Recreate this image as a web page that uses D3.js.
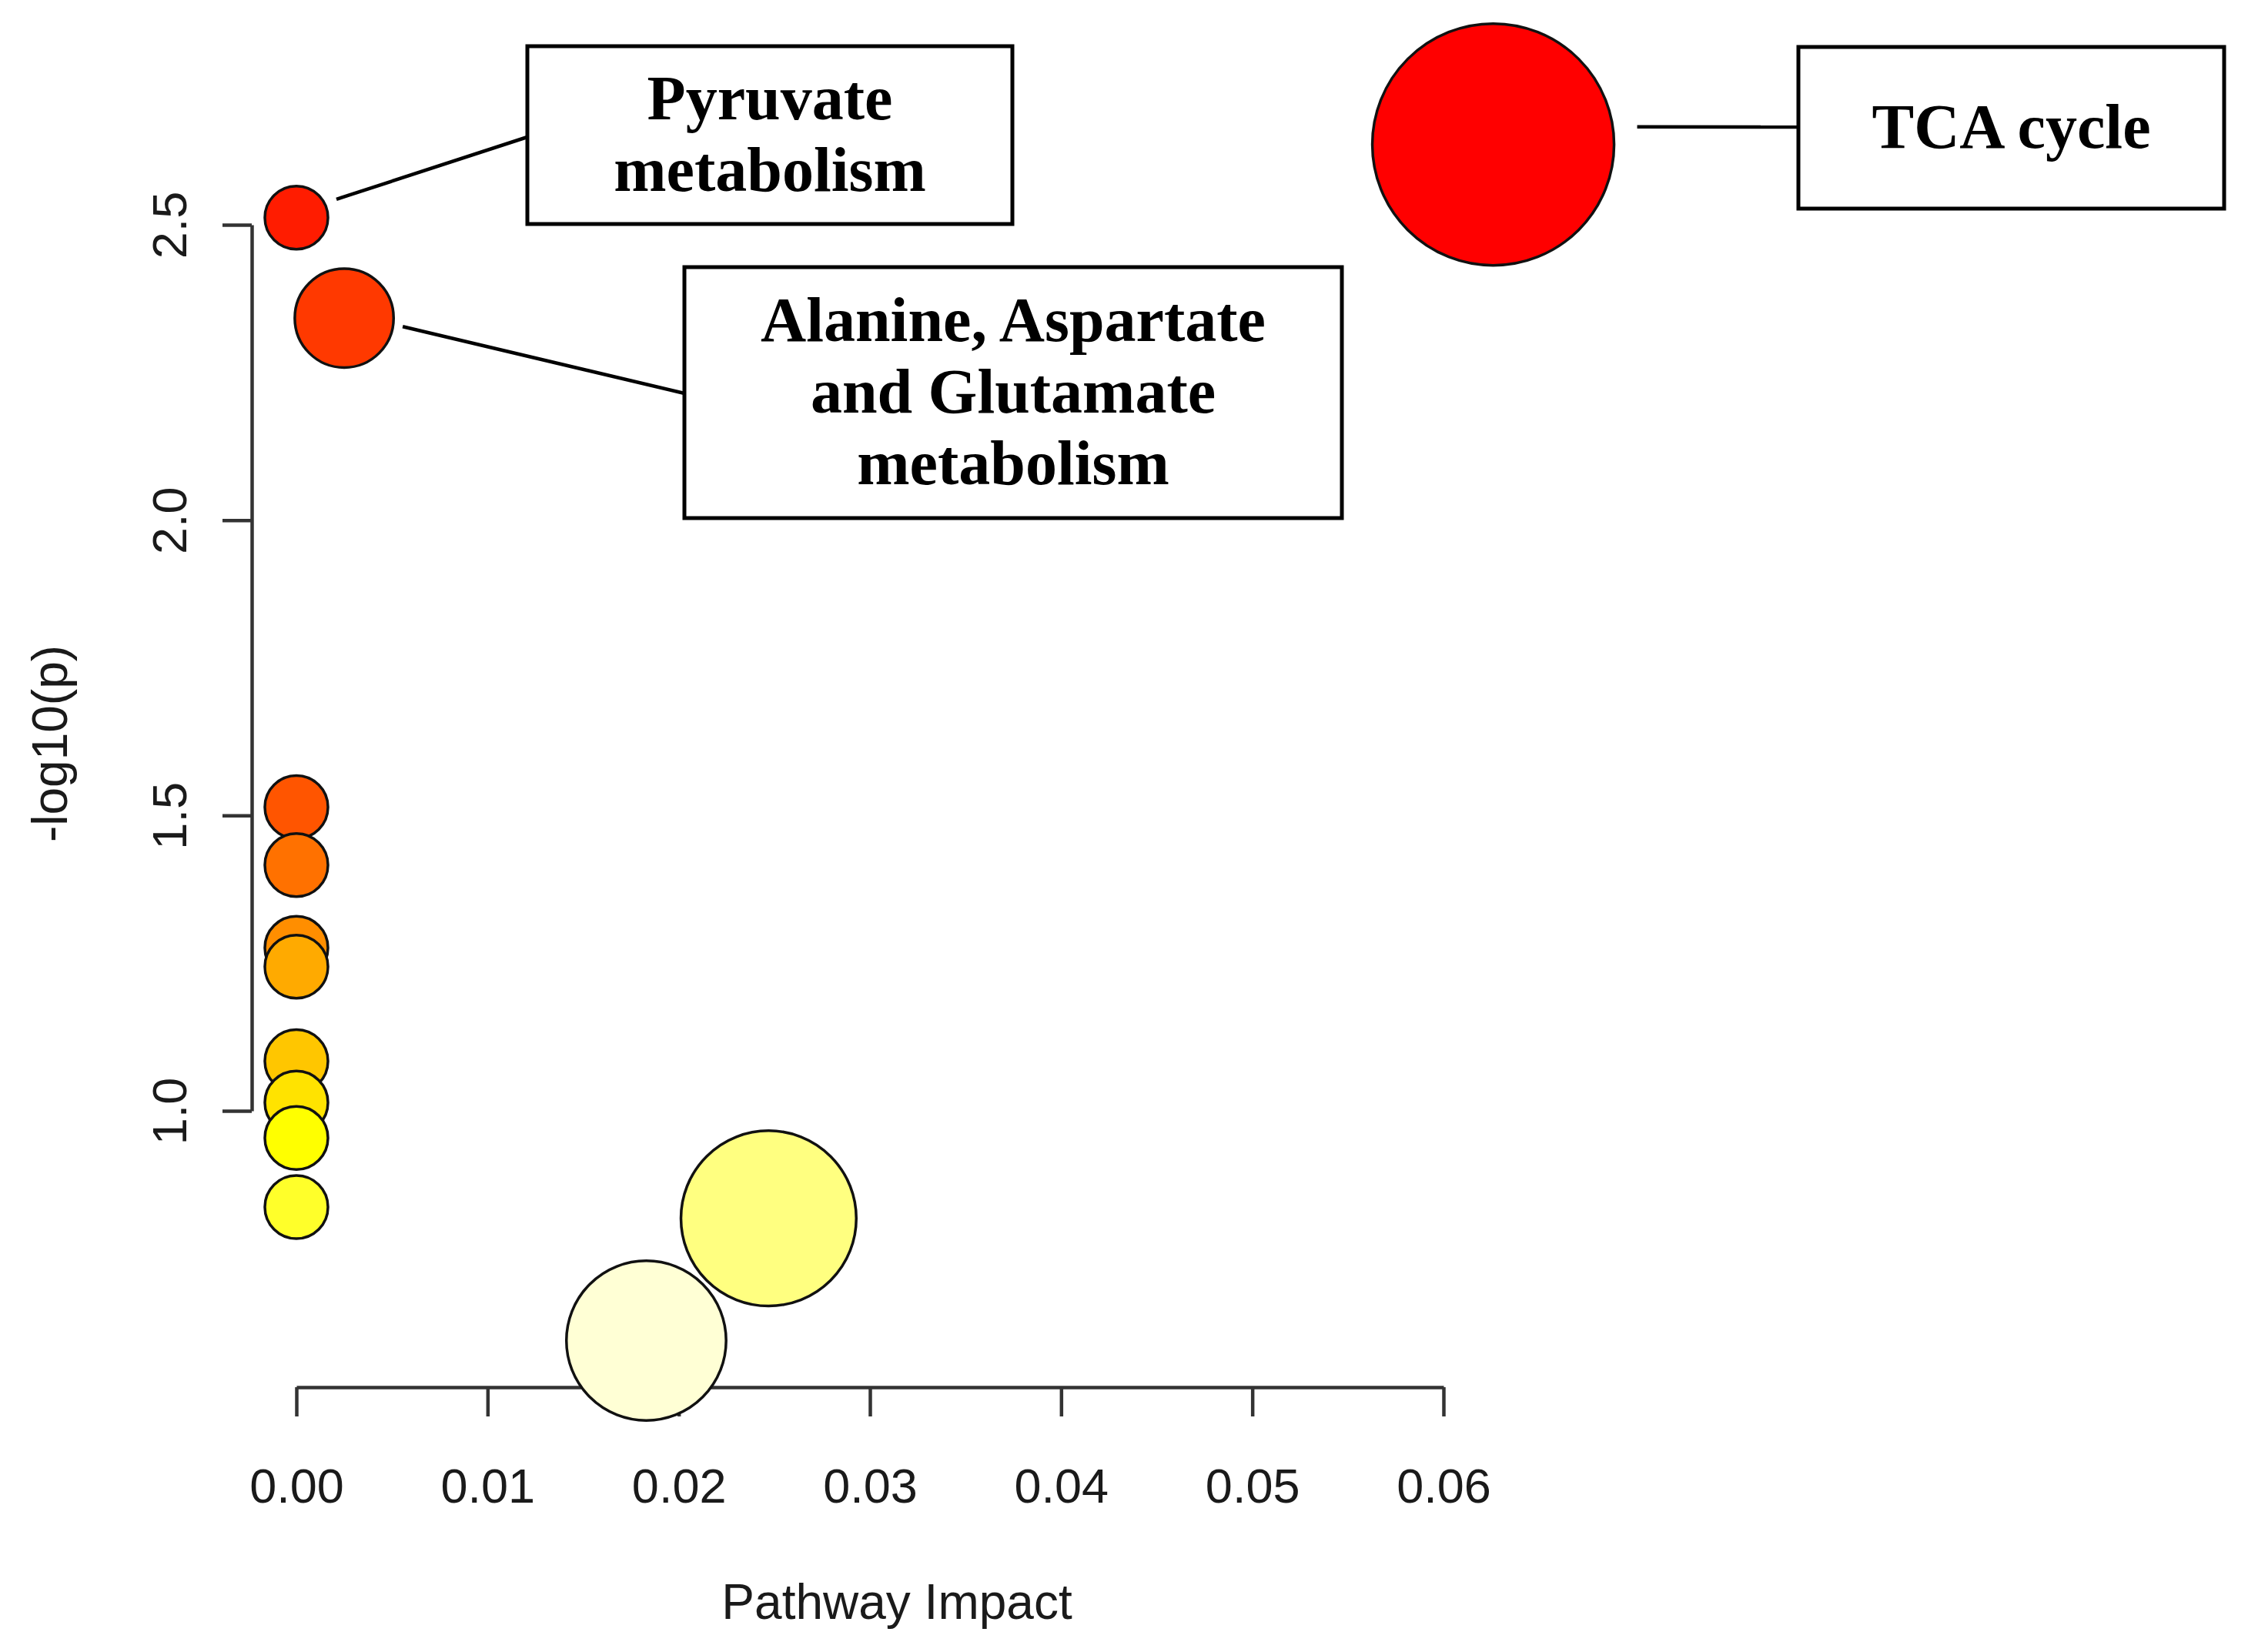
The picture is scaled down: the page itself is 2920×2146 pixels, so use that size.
<!DOCTYPE html>
<html>
<head>
<meta charset="utf-8">
<script src="https://cdn.jsdelivr.net/npm/d3@7"></script>
<style>
  body { margin: 0; background: #fff; }
</style>
</head>
<body>
<div id="pathway-chart"></div>
<script>
// Pathway analysis bubble plot: impact vs -log10(p)

/* DATA *******************************************************************************/

// one entry per pathway, sorted by -log10(p)
const impact = [0.0626, 0.0000, 0.0025, 0.0000, 0.0000, 0.0000, 0.0000,
                0.0000, 0.0000, 0.0000, 0.0000, 0.0247, 0.0183];
const logP   = [2.636, 2.512, 2.342, 1.514, 1.416, 1.276, 1.244,
                1.084, 1.014, 0.954, 0.837, 0.818, 0.611];

// axis ticks
const xTicks = [0.00, 0.01, 0.02, 0.03, 0.04, 0.05, 0.06];
const yTicks = [1.0, 1.5, 2.0, 2.5];

// labelled pathways (index into the arrays above) and their text lines
const labelPoint = [0, 1, 2];
const labelText  = [
    ["TCA cycle"],
    ["Pyruvate", "metabolism"],
    ["Alanine, Aspartate", "and Glutamate", "metabolism"]
];

/* SETTINGS ***************************************************************************/

const width = 2920;
const height = 2146;

const axisFont = '"Liberation Sans", Arial, Helvetica, sans-serif';
const boxFont = '"Liberation Serif", "Times New Roman", serif';
const axisColor = "#333";
const textColor = "#1a1a1a";

// label boxes: rect + where the leader line leaves the bubble (offset from centre)
const boxLayout = [
    { x: 2336, y: 61,  w: 553, h: 210, dx: 187, dy: -23, ey: 165 },
    { x: 685,  y: 60,  w: 630, h: 231, dx: 52,  dy: -24, ey: 178 },
    { x: 889,  y: 347, w: 854, h: 326, dx: 76,  dy: 11,  ey: 511 }
];
const lineGap = 93;

/* COLOURS (R heat.colors by rank of p) ***********************************************/

function heatColors(n) {
    var j = Math.floor(n / 4), i = n - j, out = [];
    for (var k = 0; k < i; k++) {
        var h = i > 1 ? k / (i - 1) / 6 : 0;
        out.push(d3.rgb(255, Math.round(255 * h * 6), 0).formatHex());
    }
    for (var k = 0; k < j; k++) {
        var s = j > 1 ? (1 - 1 / (2 * j)) + k * ((1 / (2 * j)) - (1 - 1 / (2 * j))) / (j - 1) : 0.5;
        out.push(d3.rgb(255, 255, Math.round(255 * (1 - s))).formatHex());
    }
    return out;
}

var drawChart = function() {

    const n = impact.length;
    const order = d3.range(n).sort((a, b) => logP[b] - logP[a]);
    const palette = heatColors(n);
    const fill = new Array(n);
    order.forEach((idx, k) => { fill[idx] = palette[k]; });

    /* SCALES *****************************************************************************/

    const x = d3.scaleLinear().domain([0, 0.06]).range([385, 1875]);
    const y = d3.scaleLinear().domain([1.0, 2.5]).range([1443, 292]);
    const r = d3.scaleSqrt().domain([0, d3.max(impact)]).range([41, 157]);

    const svg = d3.select("#pathway-chart")
        .append("svg")
        .attr("width", width)
        .attr("height", height)
        .style("background-color", "#fff");

    /* AXES *******************************************************************************/

    const xAxis = d3.axisBottom(x)
        .tickValues(xTicks)
        .tickFormat(d3.format(".2f"))
        .tickSize(38)
        .tickSizeOuter(0);

    const yAxis = d3.axisLeft(y)
        .tickValues(yTicks)
        .tickFormat(d3.format(".1f"))
        .tickSize(38)
        .tickSizeOuter(0);

    var styleAxis = function(g) {
        g.select(".domain").attr("stroke", axisColor).attr("stroke-width", 4.5);
        g.selectAll(".tick line").attr("stroke", axisColor).attr("stroke-width", 4.5);
        g.selectAll(".tick text")
            .attr("font-family", axisFont)
            .attr("font-size", 63)
            .attr("fill", textColor);
    };

    svg.append("g")
        .attr("transform", "translate(0,1802)")
        .call(xAxis)
        .call(styleAxis)
        .call(g => g.selectAll(".tick text").attr("y", 150).attr("dy", null));

    svg.append("g")
        .attr("transform", "translate(327,0)")
        .call(yAxis)
        .call(styleAxis)
        .call(g => g.selectAll(".tick text")
            .attr("x", null)
            .attr("dy", null)
            .attr("text-anchor", "middle")
            .attr("transform", "translate(-85,0) rotate(-90)"));

    // axis titles
    svg.append("text")
        .attr("transform", "translate(87,966) rotate(-90)")
        .attr("text-anchor", "middle")
        .attr("font-family", axisFont)
        .attr("font-size", 64)
        .attr("fill", textColor)
        .text("-log10(p)");

    svg.append("text")
        .attr("x", 1165)
        .attr("y", 2103)
        .attr("text-anchor", "middle")
        .attr("font-family", axisFont)
        .attr("font-size", 64)
        .attr("fill", textColor)
        .text("Pathway Impact");

    /* BUBBLES ****************************************************************************/

    svg.append("g")
        .selectAll("circle")
        .data(order)
        .enter()
        .append("circle")
        .attr("cx", d => x(impact[d]))
        .attr("cy", d => y(logP[d]))
        .attr("r", d => r(impact[d]))
        .attr("fill", d => fill[d])
        .attr("stroke", "#111")
        .attr("stroke-width", 3.5);

    /* LABEL BOXES ************************************************************************/

    const labels = svg.append("g")
        .selectAll(".label")
        .data(labelPoint)
        .enter()
        .append("g")
        .attr("class", "label");

    labels.append("line")
        .attr("x1", (d, i) => x(impact[d]) + boxLayout[i].dx)
        .attr("y1", (d, i) => y(logP[d]) + boxLayout[i].dy)
        .attr("x2", (d, i) => boxLayout[i].x)
        .attr("y2", (d, i) => boxLayout[i].ey)
        .attr("stroke", "#000")
        .attr("stroke-width", 4.5);

    labels.append("rect")
        .attr("x", (d, i) => boxLayout[i].x)
        .attr("y", (d, i) => boxLayout[i].y)
        .attr("width", (d, i) => boxLayout[i].w)
        .attr("height", (d, i) => boxLayout[i].h)
        .attr("fill", "#fff")
        .attr("stroke", "#000")
        .attr("stroke-width", 5);

    labels.each(function(d, i) {
        const b = boxLayout[i];
        const lines = labelText[i];
        const cy = b.y + b.h / 2;
        d3.select(this).selectAll("text")
            .data(lines)
            .enter()
            .append("text")
            .attr("x", b.x + b.w / 2)
            .attr("y", (t, k) => cy + (k - (lines.length - 1) / 2) * lineGap + 26)
            .attr("text-anchor", "middle")
            .attr("font-family", boxFont)
            .attr("font-weight", "bold")
            .attr("font-size", 82)
            .attr("fill", "#000")
            .text(t => t);
    });
}

window.addEventListener("load", drawChart)
</script>
</body>
</html>
